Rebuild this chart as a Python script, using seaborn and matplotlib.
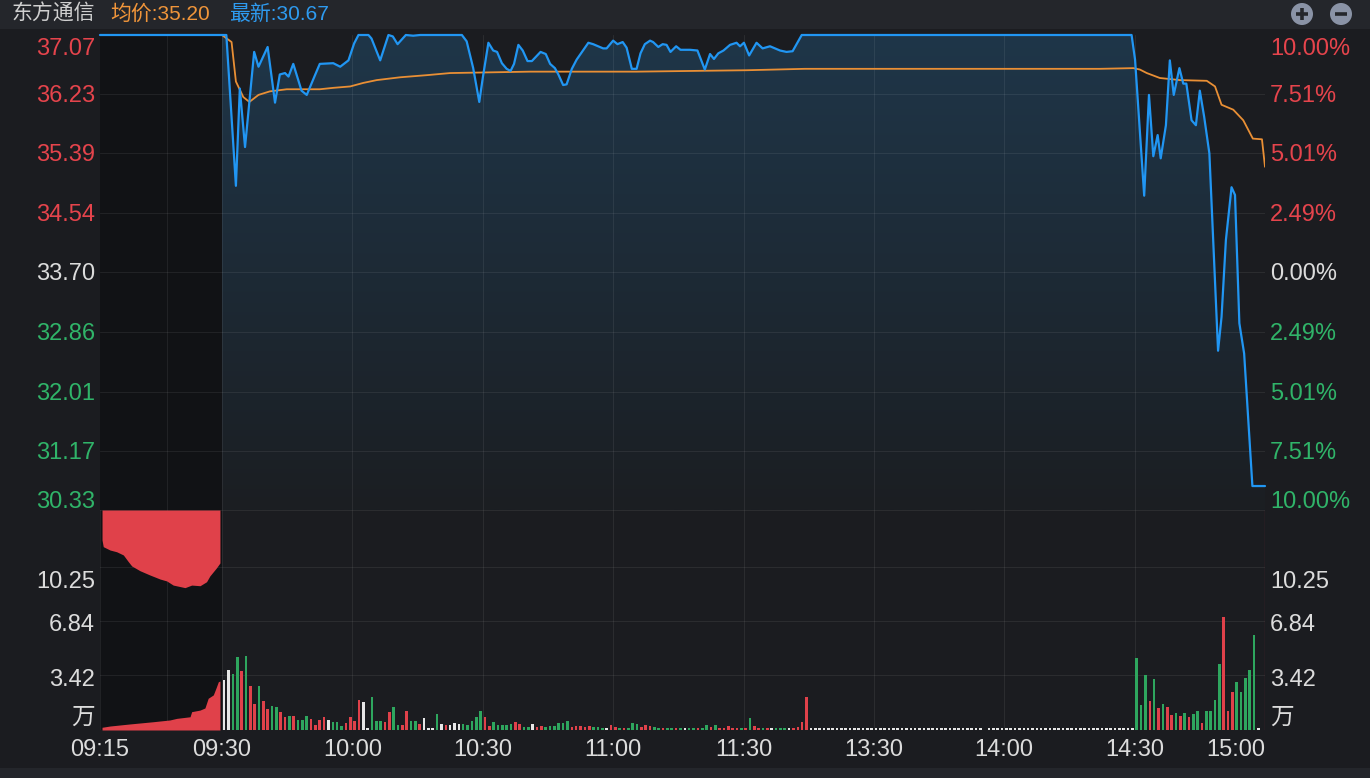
import numpy as np
import pandas as pd
import matplotlib
matplotlib.use("Agg")
import matplotlib.pyplot as plt
import matplotlib.transforms as mtransforms
from matplotlib.patches import Circle, Rectangle
from matplotlib.colors import LinearSegmentedColormap
import seaborn as sns

# ---------------- 数据 ----------------
STOCK = '东方通信'
AVG_LAST = 35.20
LAST = 30.67
PRE_CLOSE = 33.70
LIMIT_UP = 37.07
LIMIT_DOWN = 30.33

PRICE_TICKS = [37.07, 36.23, 35.39, 34.54, 33.70, 32.86, 32.01, 31.17, 30.33]
PCT_TICKS = ['10.00%', '7.51%', '5.01%', '2.49%', '0.00%', '2.49%', '5.01%', '7.51%', '10.00%']
VOL_TICKS = [10.25, 6.84, 3.42]
VOL_MAX = 13.8
TIME_LABELS = ['09:15', '09:30', '10:00', '10:30', '11:00', '11:30', '13:30', '14:00', '14:30', '15:00']
TRADE_TICKS = [0, 30, 60, 90, 120, 150, 180, 210, 240]   # 09:30 起的交易分钟

# 分时价格 (交易分钟, 价格)
PRICE_MIN = [0, 1, 3.2, 4.1, 5.3, 7.4, 8.4, 10.5, 12.2, 13.3, 14.5, 15.3, 16.4, 18.3, 19.5,
             21.4, 22.5, 25.6, 27.2, 29.1, 30.4, 31.4, 33.7, 34.4, 36.4, 38.3, 39.3, 40.4,
             42.3, 44, 45.6, 55.2, 56.3, 57.8, 59.2, 60, 61.3, 62.4, 63.3, 64.4, 65.5, 66.4,
             67.2, 68.2, 69.2, 70.3, 71.3, 73.3, 74.5, 75.5, 76.6, 77.4, 78.5, 79.3, 80.5,
             81.6, 84.3, 85.4, 87.7, 88.5, 90, 91, 92.2, 93.1, 94.3, 95.4, 96.3, 97.3, 98.5,
             99.2, 100.4, 101.4, 102.3, 103.2, 104.5, 105.5, 107.7, 109.4, 111.1, 112.3,
             113.2, 114.2, 115.4, 116.9, 118.4, 119.2, 120.1, 121.3, 123, 124.4, 126.1,
             128.4, 129.9, 131.3, 133.4, 209.3, 210.1, 212.2, 213.3, 214.3, 215.3, 216,
             217.2, 218.1, 219, 220.3, 221.2, 221.9, 223.1, 224.1, 225, 226, 227.2, 229.2,
             230, 231, 232.3, 233.1, 234.1, 235.2, 237.1, 240]
PRICE = [37.07, 37.07, 34.93, 36.31, 35.48, 36.83, 36.62, 36.90, 36.11, 36.51, 36.53, 36.48,
         36.66, 36.28, 36.22, 36.50, 36.66, 36.67, 36.62, 36.71, 36.95, 37.07, 37.07, 37.02,
         36.71, 37.07, 37.05, 36.94, 37.07, 37.06, 37.07, 37.07, 36.98, 36.60, 36.12, 36.46,
         36.96, 36.85, 36.83, 36.67, 36.59, 36.56, 36.66, 36.93, 36.85, 36.70, 36.70, 36.83,
         36.80, 36.66, 36.60, 36.51, 36.36, 36.37, 36.59, 36.72, 36.96, 36.94, 36.88, 36.88,
         36.99, 36.94, 36.97, 36.89, 36.59, 36.59, 36.81, 36.94, 36.99, 36.97, 36.90, 36.94,
         36.93, 36.83, 36.91, 36.86, 36.86, 36.85, 36.58, 36.80, 36.73, 36.81, 36.85, 36.93,
         36.96, 36.91, 36.96, 36.78, 36.96, 36.88, 36.91, 36.85, 36.83, 36.84, 37.07, 37.07,
         36.72, 34.79, 36.22, 35.35, 35.65, 35.32, 35.79, 36.71, 36.22, 36.60, 36.38, 36.38,
         35.86, 35.79, 36.28, 35.91, 35.39, 32.59, 33.07, 34.16, 34.91, 34.80, 32.98, 32.55,
         30.67, 30.67]

# 均价线
AVG_MIN = [0, 2.2, 3.2, 4.9, 6.3, 8.4, 11, 14.9, 17.9, 22.5, 25.6, 29.5, 32.5, 35.6, 41,
           47.1, 52.5, 70.9, 95.4, 120.7, 134.1, 202, 209.7, 211.2, 212.8, 215.8, 220.4,
           226.6, 228.5, 230, 232.7, 235, 237.2, 239.3, 240]
AVG = [37.07, 36.97, 36.41, 36.19, 36.12, 36.22, 36.27, 36.30, 36.30, 36.30, 36.32, 36.34,
       36.39, 36.43, 36.47, 36.50, 36.53, 36.55, 36.55, 36.57, 36.59, 36.59, 36.60, 36.58,
       36.53, 36.46, 36.43, 36.42, 36.34, 36.08, 36.01, 35.86, 35.60, 35.59, 35.20]

# 成交量 (万手), 每分钟一根; r=红 g=绿 w=平
VOLUME = ([3.14, 3.76, 3.51, 4.58, 3.70, 4.64, 2.76, 1.63, 2.76, 1.82,
           1.32, 1.51, 1.44, 1.13, 0.82, 0.88, 0.88, 0.63, 0.63, 0.88,
           0.69, 0.31, 0.63, 0.82, 0.63, 0.50, 0.50, 0.25, 0.44, 0.82,
           0.56, 1.88, 1.76, 0.13, 2.07, 0.56, 0.56, 0.50, 1.13, 1.44,
           0.31, 0.31, 1.19, 0.56, 0.56, 0.38, 0.75, 0.13, 0.13, 1.00,
           0.38, 0.31, 0.31, 0.44, 0.38, 0.38, 0.31, 0.56, 0.82, 1.19,
           0.82, 0.25, 0.50, 0.31, 0.31,
           0.31, 0.38, 0.50, 0.38, 0.19, 0.19, 0.38, 0.19, 0.25, 0.19,
           0.25, 0.25, 0.44, 0.44, 0.56, 0.19, 0.25, 0.25, 0.19, 0.25,
           0.19, 0.19, 0.13, 0.13, 0.31, 0.19, 0.13, 0.13, 0.13, 0.44,
           0.38, 0.19, 0.31, 0.25, 0.19, 0.13, 0.13, 0.13, 0.13, 0.13,
           0.13, 0.13, 0.13, 0.13, 0.13, 0.13, 0.31, 0.19, 0.31, 0.13,
           0.13, 0.25, 0.13, 0.13, 0.13, 0.13, 0.75, 0.25, 0.13, 0.13,
           0.13, 0.13, 0.13, 0.13, 0.13, 0.13, 0.13, 0.19, 0.50, 2.07,
           0.13, 0.13, 0.13, 0.13, 0.13]
          + [0.13] * 35 + [0.0] + [0.13] * 34
          + [4.52, 1.57, 3.45, 1.82, 3.20, 1.38, 1.63, 1.44, 0.94, 1.07,
             0.88, 1.07, 0.82, 1.00, 1.19, 0.44, 1.19, 1.19, 1.88, 4.14,
             7.09, 1.19, 2.38, 3.01, 2.38, 3.26, 3.76, 5.96, 0.13, 0.0])
VOL_DIR = list('wwggrgrrgr' 'rggrrgrggg' 'rrrrwgggrr' 'rrwwgggrrg' 'grrggrwwwg'
               'wrwwwggggg' 'rrggg'
               'ggrrggwrrg' 'gggggrrrrr' 'gggwrrgrgg' 'grrrggrggr' 'gwggrggrgr'
               'rrrrgrgrrg' 'rwgggwrrrr' 'wwwww'
               + 'w' * 70
               + 'gggrgrgrrg' 'rgrggrgggg' 'rrrgggggw' 'w')

# 集合竞价 (09:15 起的分钟)
PRE_T_UNMATCHED = [0.25, 0.4, 1.23, 2.05, 2.87, 3.48, 3.9, 4.92, 6.15, 7.38, 8.2, 9.0, 10.45,
                   11.27, 12.3, 13.1, 13.5, 14.3, 14.75]
PRE_UNMATCHED = [1.88, 2.30, 2.51, 2.62, 2.82, 3.24, 3.51, 3.81, 4.08, 4.33, 4.45, 4.71, 4.87,
                 4.71, 4.75, 4.50, 4.14, 3.64, 3.32]
PRE_T_VOL = [0.25, 1.23, 3.69, 5.33, 6.56, 8.6, 9.43, 11.07, 11.27, 12.3, 12.9, 13.3, 13.93,
             14.26, 14.55, 14.75]
PRE_VOL = [0.17, 0.25, 0.38, 0.46, 0.52, 0.63, 0.73, 0.83, 1.15, 1.25, 1.38, 1.99, 2.20,
           2.63, 3.03, 3.07]

# ---------------- 样式 ----------------
W, H = 1370, 778
BG = '#1b1c20'
PRE_BG = '#111215'
HEADER = '#24262b'
GRID = (1, 1, 1, 0.07)
BLUE = '#2196f3'
ORANGE = '#e98f35'
RED = '#e0414a'
GREEN = '#2ea65e'
WHITE = '#e6e6e6'
RED_T = '#e5444c'
GREEN_T = '#30b469'
WHITE_T = '#dcdcdc'
FS = 17

PX_PER_MIN = (1265 - 222) / 240
PRE_PX_PER_MIN = (222 - 100) / 15


def pre_x(t):
    # 集合竞价分钟 -> 图上x坐标(与交易分钟同一刻度)
    return (np.asarray(t, dtype=float) - 15) * PRE_PX_PER_MIN / PX_PER_MIN


XMIN = float(pre_x(0))
XMAX = 240


def rect(x0, y0, x1, y1):
    return [x0 / W, 1 - y1 / H, (x1 - x0) / W, (y1 - y0) / H]


sns.set_theme(style='dark')
plt.rcParams['font.family'] = ['Liberation Sans', 'Noto Sans CJK SC', 'DejaVu Sans']

fig = plt.figure(figsize=(W / 100, H / 100), dpi=100)
fig.patch.set_facecolor(BG)

bg = fig.add_axes([0, 0, 1, 1])
bg.set_xlim(0, W)
bg.set_ylim(H, 0)
bg.axis('off')
bg.add_patch(Rectangle((0, 0), W, 29, color=HEADER, lw=0))
bg.add_patch(Rectangle((0, 768), W, 10, color=HEADER, lw=0))

ax_p = fig.add_axes(rect(100, 35, 1265, 510))
ax_v = fig.add_axes(rect(100, 510, 1265, 730))

for ax in (ax_p, ax_v):
    ax.set_facecolor(BG)
    for s in ax.spines.values():
        s.set_visible(False)
    ax.axvspan(XMIN, 0, color=PRE_BG, lw=0, zorder=0)

# ---- 价格区 ----
fill = ax_p.fill_between(PRICE_MIN, PRICE, LIMIT_DOWN, color='none', lw=0)
grad = np.linspace(1, 0, 256).reshape(-1, 1)
cmap = LinearSegmentedColormap.from_list('fill', ['#1b1e22', '#1f3649'])
im = ax_p.imshow(grad, extent=[0, XMAX, LIMIT_DOWN, LIMIT_UP], aspect='auto',
                 cmap=cmap, origin='upper', zorder=1)
im.set_clip_path(fill.get_paths()[0], transform=ax_p.transData)

for p in PRICE_TICKS[1:]:
    ax_p.axhline(p, color=GRID, lw=0.8, zorder=2)
for x in [pre_x(8.24)] + TRADE_TICKS[:-1]:
    ax_p.axvline(x, color=GRID, lw=0.8, zorder=2)
ax_p.axvline(XMAX, color=GRID, lw=0.8, zorder=2)

sns.lineplot(x=[XMIN, 0], y=[LIMIT_UP, LIMIT_UP], ax=ax_p, color=BLUE, lw=1.6,
             clip_on=False, zorder=4)
sns.lineplot(x=PRICE_MIN, y=PRICE, ax=ax_p, color=BLUE, lw=1.6, clip_on=False, zorder=4)
sns.lineplot(x=AVG_MIN, y=AVG, ax=ax_p, color=ORANGE, lw=1.3, zorder=3)

ax_p.set_xlim(XMIN, XMAX)
ax_p.set_ylim(LIMIT_DOWN, LIMIT_UP)

# ---- 成交量区 ----
vol_df = pd.DataFrame({'x': np.arange(len(VOLUME)) + 0.5, 'v': VOLUME, 'c': VOL_DIR})
sns.barplot(data=vol_df, x='x', y='v', hue='c', palette={'r': RED, 'g': GREEN, 'w': WHITE},
            native_scale=True, width=0.6, dodge=False, legend=False, errorbar=None,
            saturation=1, linewidth=0, ax=ax_v, zorder=3)

ax_v.fill_between(pre_x(PRE_T_VOL), 0, PRE_VOL, color=RED, lw=0, zorder=3)
ax_v.fill_between(pre_x(PRE_T_UNMATCHED), VOL_MAX - np.array(PRE_UNMATCHED), VOL_MAX,
                  color=RED, lw=0, zorder=3)

for v in VOL_TICKS:
    ax_v.axhline(v, color=GRID, lw=0.8, zorder=2)
for x in [XMIN, pre_x(8.24)] + TRADE_TICKS[:-1]:
    ax_v.axvline(x, color=GRID, lw=0.8, zorder=2)
ax_v.axhline(VOL_MAX, color=GRID, lw=0.8, zorder=2)
ax_v.axvline(XMAX, color='#c8404a', lw=0.8, zorder=2)

ax_v.set_xlim(XMIN, XMAX)
ax_v.set_ylim(0, VOL_MAX)

for ax in (ax_p, ax_v):
    ax.set_xticks([])
    ax.set_yticks([])
    ax.set_xlabel('')
    ax.set_ylabel('')
    ax.grid(False)

# ---- 坐标文字 ----
tr_p = mtransforms.blended_transform_factory(bg.transData, ax_p.transData)
for i, (p, pct) in enumerate(zip(PRICE_TICKS, PCT_TICKS)):
    col = RED_T if p > PRE_CLOSE else (GREEN_T if p < PRE_CLOSE else WHITE_T)
    dy = -12 if i == 0 else (10 if i == len(PRICE_TICKS) - 1 else 0)
    tr = mtransforms.offset_copy(tr_p, fig=fig, y=dy - 2, units='dots')
    bg.text(95, p, f'{p:.2f}', transform=tr, ha='right', va='center', color=col, fontsize=FS)
    bg.text(1270, p, pct, transform=tr, ha='left', va='center', color=col, fontsize=FS)

tr_v = mtransforms.blended_transform_factory(bg.transData, ax_v.transData)
for v, dy in zip(VOL_TICKS, [-13, -2, -3]):
    tr = mtransforms.offset_copy(tr_v, fig=fig, y=dy - 2, units='dots')
    bg.text(95, v, f'{v:.2f}', transform=tr, ha='right', va='center', color=WHITE_T, fontsize=FS)
    bg.text(1270, v, f'{v:.2f}', transform=tr, ha='left', va='center', color=WHITE_T, fontsize=FS)
bg.text(95, 718, '万', ha='right', va='center', color=WHITE_T, fontsize=FS)
bg.text(1270, 718, '万', ha='left', va='center', color=WHITE_T, fontsize=FS)

tr_x = mtransforms.blended_transform_factory(ax_v.transData, bg.transData)
time_pos = [XMIN] + TRADE_TICKS
for i, (x, lab) in enumerate(zip(time_pos, TIME_LABELS)):
    ha = 'right' if i == len(TIME_LABELS) - 1 else 'center'
    bg.text(x, 750, lab, transform=tr_x, ha=ha, va='center', color=WHITE_T, fontsize=FS)

# ---- 标题栏 ----
bg.text(12, 14, STOCK, ha='left', va='center', color='#d0d0d0', fontsize=15)
bg.text(110, 14, f'均价:{AVG_LAST:.2f}', ha='left', va='center', color='#f0953a', fontsize=15)
bg.text(229, 14, f'最新:{LAST:.2f}', ha='left', va='center', color='#2e9bf0', fontsize=15)

for cx in (1302, 1341):
    bg.add_patch(Circle((cx, 14), 11, color='#8a93a6', lw=0))
    bg.plot([cx - 6, cx + 6], [14, 14], color='#25272c', lw=2.6, solid_capstyle='butt')
bg.plot([1302, 1302], [8, 20], color='#25272c', lw=2.6, solid_capstyle='butt')

fig.savefig('out.png', dpi=100, facecolor=fig.get_facecolor())
